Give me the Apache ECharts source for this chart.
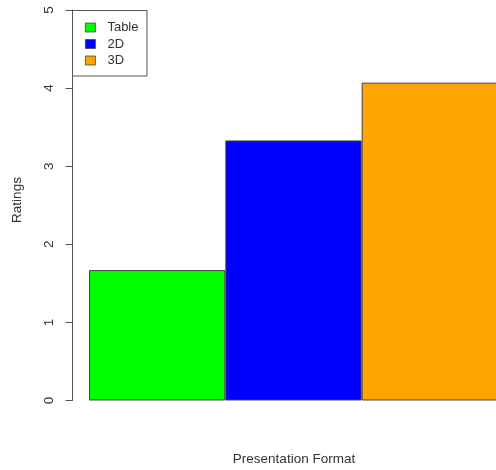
<!DOCTYPE html>
<html>
<head>
<meta charset="utf-8">
<script src="https://cdn.jsdelivr.net/npm/echarts@6/dist/echarts.min.js"></script>
<style>
html,body{margin:0;padding:0;background:#fff;}
#main{width:496px;height:470px;}
</style>
</head>
<body>
<div id="main"></div>
<script>
const categories = ['Table', '2D', '3D'];
const ratings = [1.67, 3.33, 4.07];
const colors = ['#00ff00', '#0000ff', '#ffa500'];
const yTicks = [0, 1, 2, 3, 4, 5];
const xTitle = 'Presentation Format';
const yTitle = 'Ratings';

const font = 'Liberation Sans, Arial, sans-serif';
const chart = echarts.init(document.getElementById('main'), null, {renderer: 'canvas'});

const series = categories.map((c, i) => ({
  name: c,
  type: 'bar',
  stack: 'all',
  barCategoryGap: '0%',
  data: categories.map((_, j) => j === i ? ratings[i] : '-'),
  itemStyle: {color: colors[i], borderColor: '#444', borderWidth: 1},
  emphasis: {disabled: true},
  animation: false
}));

chart.setOption({
  animation: false,
  grid: {left: 89, width: 409, top: 10, height: 390.5, containLabel: false, outerBoundsMode: 'none'},
  xAxis: {
    type: 'category',
    data: categories,
    show: false
  },
  yAxis: {
    type: 'value',
    min: yTicks[0],
    max: yTicks[yTicks.length - 1],
    interval: 1,
    offset: 16.5,
    axisLine: {show: true, lineStyle: {color: '#555', width: 1}},
    axisTick: {show: true, length: 7, lineStyle: {color: '#555'}},
    splitLine: {show: false},
    axisLabel: {rotate: 90, margin: 16, color: '#333', fontSize: 13.5, fontFamily: font}
  },
  legend: {
    orient: 'vertical',
    left: 85,
    top: 21,
    padding: 0,
    itemGap: 3.5,
    itemWidth: 10,
    itemHeight: 9,
    icon: 'rect',
    selectedMode: false,
    data: categories,
    itemStyle: {borderWidth: 0.8, borderColor: '#444'},
    textStyle: {fontSize: 13, fontFamily: font, color: '#333', lineHeight: 13, padding: [0, 0, 0, 7]}
  },
  graphic: [
    {type: 'rect', shape: {x: 72.5, y: 10.5, width: 74.5, height: 65.5},
     style: {fill: 'none', stroke: '#555', lineWidth: 1}, z: 10, silent: true},
    {type: 'text', x: 294, y: 459,
     style: {text: xTitle, font: '13.5px ' + font, fill: '#333', align: 'center', verticalAlign: 'middle'}},
    {type: 'text', x: 17, y: 200, rotation: Math.PI / 2,
     style: {text: yTitle, font: '13.5px ' + font, fill: '#333', align: 'center', verticalAlign: 'middle'}}
  ],
  series: series
});
</script>
</body>
</html>
